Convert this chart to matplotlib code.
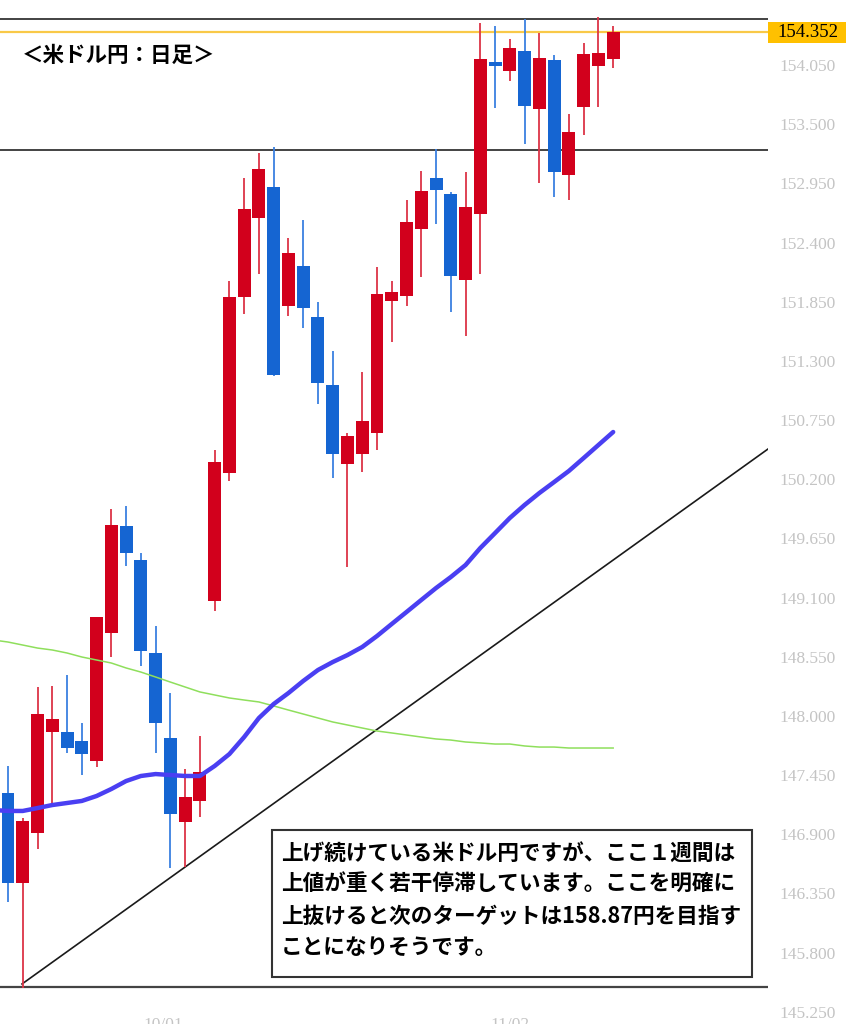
import matplotlib
matplotlib.use('Agg')
import matplotlib.pyplot as plt
import matplotlib.transforms as mtransforms
from matplotlib.patches import Rectangle
import numpy as np

# 日本語フォント
plt.rcParams['font.family'] = ['Noto Sans CJK JP', 'DejaVu Sans']

# 日足データ（米ドル円）
opens = [147.284, 146.447, 146.912, 147.851, 147.851, 147.767, 147.581, 148.771, 149.765, 149.449,
         148.585, 147.795, 147.014, 147.210, 149.068, 150.258, 151.894, 152.628, 152.916, 151.810,
         152.182, 151.708, 151.076, 150.342, 150.435, 150.630, 151.857, 151.903, 152.526, 153.000,
         152.851, 152.052, 152.665, 154.078, 153.994, 154.180, 153.641, 154.096, 153.028, 153.660,
         154.041, 154.106]
highs = [147.535, 147.051, 148.269, 148.278, 148.381, 147.934, 148.920, 149.923, 149.951, 149.514,
         148.836, 148.213, 147.507, 147.814, 150.472, 152.042, 153.000, 153.232, 153.288, 152.442,
         152.609, 151.847, 151.392, 150.630, 151.197, 152.173, 152.042, 152.795, 153.065, 153.269,
         152.870, 153.055, 154.440, 154.412, 154.292, 154.477, 154.347, 154.143, 153.594, 154.254,
         154.496, 154.412]
lows = [146.271, 145.472, 146.763, 147.191, 147.656, 147.451, 147.526, 148.548, 149.394, 148.464,
        147.656, 146.587, 146.596, 147.061, 148.975, 150.184, 151.736, 152.107, 151.159, 151.717,
        151.606, 150.899, 150.211, 149.384, 150.267, 150.472, 151.475, 151.810, 152.080, 152.572,
        151.754, 151.531, 152.107, 153.650, 153.901, 153.316, 152.953, 152.823, 152.795, 153.399,
        153.660, 154.022]
closes = [146.447, 147.024, 148.018, 147.972, 147.702, 147.646, 148.920, 149.775, 149.514, 148.604,
          147.934, 147.089, 147.247, 147.479, 150.360, 151.894, 152.712, 153.083, 151.169, 152.303,
          151.791, 151.094, 150.435, 150.602, 150.741, 151.922, 151.940, 152.591, 152.879, 152.888,
          152.089, 152.730, 154.106, 154.041, 154.208, 153.669, 154.115, 153.055, 153.427, 154.152,
          154.161, 154.352]

# 移動平均（前日分から）
ma_short = [147.126, 147.117, 147.117, 147.144, 147.172, 147.191, 147.210, 147.256, 147.321, 147.395,
            147.442, 147.460, 147.451, 147.442, 147.442, 147.535, 147.646, 147.804, 147.981, 148.111,
            148.213, 148.325, 148.427, 148.501, 148.566, 148.641, 148.743, 148.855, 148.966, 149.078,
            149.189, 149.291, 149.403, 149.561, 149.700, 149.840, 149.961, 150.072, 150.174, 150.277,
            150.397, 150.518, 150.639]
ma_long = [148.706, 148.687, 148.659, 148.631, 148.613, 148.585, 148.548, 148.520, 148.492, 148.446,
           148.408, 148.362, 148.315, 148.269, 148.223, 148.195, 148.167, 148.148, 148.130, 148.093,
           148.055, 148.018, 147.981, 147.944, 147.916, 147.888, 147.860, 147.842, 147.823, 147.804,
           147.786, 147.776, 147.758, 147.749, 147.739, 147.739, 147.721, 147.711, 147.711, 147.702,
           147.702, 147.702, 147.702]

# ライン
resistance_top = 154.477
resistance_mid = 153.260
support_bottom = 145.481
current_price = 154.352
trend_x = [0.95, 51.49]
trend_y = [145.509, 150.481]

price_ticks = [154.050, 153.500, 152.950, 152.400, 151.850, 151.300, 150.750, 150.200, 149.650,
               149.100, 148.550, 148.000, 147.450, 146.900, 146.350, 145.800, 145.250]
date_labels = ['10/01', '11/02']
date_pos = [10.5, 34.0]

title = '＜米ドル円：日足＞'
comment_lines = ['上げ続けている米ドル円ですが、ここ１週間は',
                 '上値が重く若干停滞しています。ここを明確に',
                 '上抜けると次のターゲットは158.87円を目指す',
                 'ことになりそうです。']

W, H = 846, 1024
fig = plt.figure(figsize=(W / 100, H / 100), dpi=100)
ax = fig.add_axes([0, 0, 768 / W, 1])
ax.set_xlim(-0.542, 51.49)
ax.set_ylim(145.137, 154.654)
for s in ax.spines.values():
    s.set_visible(False)

up_col, down_col = '#d2001c', '#1565d2'
up_wick, down_wick = '#dc3446', '#3a80e0'
x = np.arange(len(opens))
for i in x:
    o, h, l, c = opens[i], highs[i], lows[i], closes[i]
    up = c >= o
    ax.vlines(i, l, h, color=up_wick if up else down_wick, lw=1.3, zorder=2)
    ax.bar(i, max(abs(c - o), 0.04), bottom=min(o, c), width=0.88,
           color=up_col if up else down_col, zorder=3)

xm = np.arange(-1, len(opens))
ax.plot(xm, ma_long, color='#8fdf5c', lw=1.1, zorder=4)
ax.plot(xm, ma_short, color='#4a3ff2', lw=3.2, zorder=5, solid_capstyle='round')

ax.axhline(resistance_top, color='#222222', lw=1.2, zorder=1)
ax.axhline(resistance_mid, color='#222222', lw=1.2, zorder=1)
ax.axhline(support_bottom, color='#444444', lw=1.6, zorder=1)
ax.axhline(current_price, color='#f9c948', lw=1.6, zorder=1)
ax.plot(trend_x, trend_y, color='#1a1a1a', lw=1.2, zorder=1)

# 右軸の価格
ax.yaxis.tick_right()
ax.set_yticks(price_ticks)
ax.set_yticklabels([f'{p:.3f}' for p in price_ticks], fontfamily='Liberation Serif',
                   fontsize=12.5, color='#c4c4c4')
ax.tick_params(axis='y', length=0, pad=8)
ax.set_xticks([])

# 現在値ラベル
trans = mtransforms.blended_transform_factory(ax.transAxes, ax.transData)
ax.add_patch(Rectangle((1.0, current_price - 0.0975), 78 / 768, 0.195, transform=trans,
                       facecolor='#ffc000', edgecolor='none', clip_on=False))
ax.text(1.0 + 40 / 768, current_price, f'{current_price:.3f}', transform=trans,
        ha='center', va='center', fontsize=13.5, fontfamily='Liberation Serif', color='black')

# 日付ラベル（下端で切れる）
for p, lab in zip(date_pos, date_labels):
    ax.text(p, 7 / H, lab, transform=mtransforms.blended_transform_factory(ax.transData, ax.transAxes),
            ha='center', va='top', fontsize=12.5, fontfamily='Liberation Serif', color='#c4c4c4',
            clip_on=False)

fig.text(22 / W, 1 - 55 / H, title, fontsize=15.5, fontweight='bold', va='center', ha='left')

# コメント枠
fig.add_artist(Rectangle((272 / W, 1 - 977 / H), 480 / W, 147 / H, transform=fig.transFigure,
                         facecolor='white', edgecolor='#333333', lw=1.5, zorder=10))
for k, line in enumerate(comment_lines):
    fig.text(281 / W, 1 - (853 + 31.5 * k) / H, line, fontsize=15.6, fontweight='bold',
             va='center', ha='left', zorder=11)

fig.savefig('out.png', dpi=100)
